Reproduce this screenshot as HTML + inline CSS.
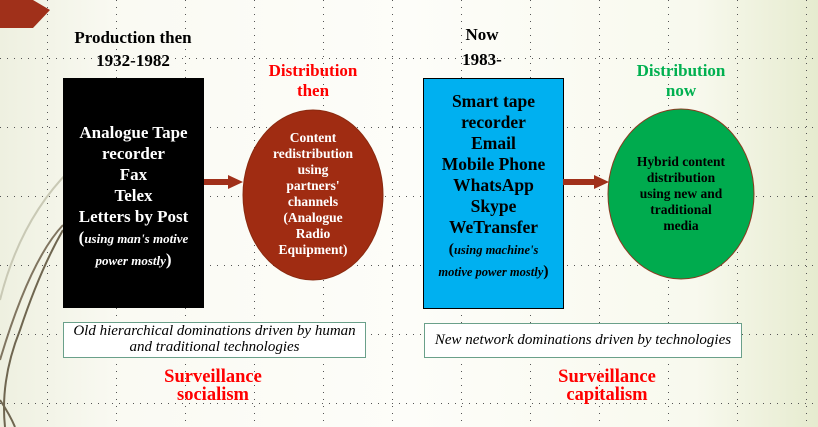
<!DOCTYPE html>
<html><head><meta charset="utf-8"><style>
body{margin:0;width:818px;height:427px;overflow:hidden;position:relative;
background:linear-gradient(90deg,#eef0e0 0%,#fafaf3 15%,#fdfdf9 50%,#f8f9ee 85%,#e6ebcf 100%);
font-family:"Liberation Serif",serif;}
.a{position:absolute;text-align:center;font-weight:bold;}
</style></head><body>
<svg width="818" height="427" style="position:absolute;left:0;top:0">
<g stroke="#555" stroke-width="1" stroke-dasharray="1 6">
<line x1="0" y1="58.5" x2="818" y2="58.5"/>
<line x1="0" y1="127.5" x2="818" y2="127.5"/>
<line x1="0" y1="196.5" x2="818" y2="196.5"/>
<line x1="0" y1="265.5" x2="818" y2="265.5"/>
<line x1="0" y1="334.5" x2="818" y2="334.5"/>
<line x1="0" y1="403.5" x2="818" y2="403.5"/>
<line x1="47.5" y1="0" x2="47.5" y2="427"/>
<line x1="116.5" y1="0" x2="116.5" y2="427"/>
<line x1="185.5" y1="0" x2="185.5" y2="427"/>
<line x1="254.5" y1="0" x2="254.5" y2="427"/>
<line x1="323.5" y1="0" x2="323.5" y2="427"/>
<line x1="392.5" y1="0" x2="392.5" y2="427"/>
<line x1="461.5" y1="0" x2="461.5" y2="427"/>
<line x1="530.5" y1="0" x2="530.5" y2="427"/>
<line x1="599.5" y1="0" x2="599.5" y2="427"/>
<line x1="668.5" y1="0" x2="668.5" y2="427"/>
<line x1="737.5" y1="0" x2="737.5" y2="427"/>
<line x1="806.5" y1="0" x2="806.5" y2="427"/>
</g>
<path d="M0,300 Q20,220 70,170" stroke="#c9c9b5" stroke-width="2" fill="none"/>
<path d="M0,360 Q30,260 63,225" stroke="#807560" stroke-width="2" fill="none"/>
<path d="M5,427 Q0,380 20,330 Q40,270 63,230" stroke="#6f6650" stroke-width="2" fill="none"/>
<path d="M0,400 Q10,415 15,427" stroke="#6f6650" stroke-width="2" fill="none"/>
<polygon points="0,0 33,0 50,10 33,28 0,28" fill="#a0301a"/>
<rect x="63" y="78" width="141" height="230" fill="#000"/>
<rect x="423.5" y="78.5" width="140" height="230" fill="#00b0f0" stroke="#000"/>
<ellipse cx="313" cy="195" rx="70" ry="85" fill="#a02c12" stroke="#8a2a10"/>
<ellipse cx="681" cy="194" rx="73" ry="85" fill="#00ab4e" stroke="#8a3a20"/>
<polygon points="204,179 228,179 228,175 243,182 228,189 228,185 204,185" fill="#a0301a"/>
<polygon points="563,179 594,179 594,175 609,182 594,189 594,185 563,185" fill="#a0301a"/>
<rect x="63.5" y="322.5" width="302" height="35" fill="#fff" stroke="#6aa08a"/>
<rect x="424.5" y="323.5" width="317" height="34" fill="#fff" stroke="#6aa08a"/>
</svg>
<div class="a" style="left:53px;top:26px;width:160px;font-size:17px;line-height:23px">Production then<br>1932-1982</div>
<div class="a" style="left:432px;top:22px;width:100px;font-size:17px;line-height:25px">Now<br>1983-</div>
<div class="a" style="left:233px;top:61px;width:160px;font-size:17px;line-height:20px;color:#f00">Distribution<br>then</div>
<div class="a" style="left:601px;top:61px;width:160px;font-size:17px;line-height:20px;color:#00b050">Distribution<br>now</div>
<div class="a" style="left:53px;top:122px;width:161px;font-size:17px;line-height:21px;color:#fff">Analogue Tape<br>recorder<br>Fax<br>Telex<br>Letters by Post<br><span style="font-size:13px;line-height:21px"><span style="font-size:17px">(</span><i>using man's motive<br>power mostly</i><span style="font-size:17px">)</span></span></div>
<div class="a" style="left:243px;top:130px;width:140px;font-size:13.5px;line-height:16px;color:#fff">Content<br>redistribution<br>using<br>partners'<br>channels<br>(Analogue<br>Radio<br>Equipment)</div>
<div class="a" style="left:413px;top:91px;width:161px;font-size:17.5px;line-height:21px;color:#000">Smart tape<br>recorder<br>Email<br>Mobile Phone<br>WhatsApp<br>Skype<br>WeTransfer<br><span style="font-size:12.5px;line-height:20px"><span style="font-size:16px">(</span><i>using machine's<br>motive power mostly</i><span style="font-size:16px">)</span></span></div>
<div class="a" style="left:601px;top:154px;width:160px;font-size:13.5px;line-height:16px;color:#000">Hybrid content<br>distribution<br>using new and<br>traditional<br>media</div>
<div class="a" style="left:53px;top:323px;width:323px;font-size:15px;line-height:16px;font-weight:normal;font-style:italic">Old hierarchical dominations driven by human<br>and traditional technologies</div>
<div class="a" style="left:414px;top:332px;width:338px;font-size:15px;line-height:16px;font-weight:normal;font-style:italic">New network dominations driven by technologies</div>
<div class="a" style="left:133px;top:368px;width:160px;font-size:18.5px;line-height:18px;color:#f00">Surveillance<br>socialism</div>
<div class="a" style="left:527px;top:368px;width:160px;font-size:18.5px;line-height:18px;color:#f00">Surveillance<br>capitalism</div>
</body></html>
